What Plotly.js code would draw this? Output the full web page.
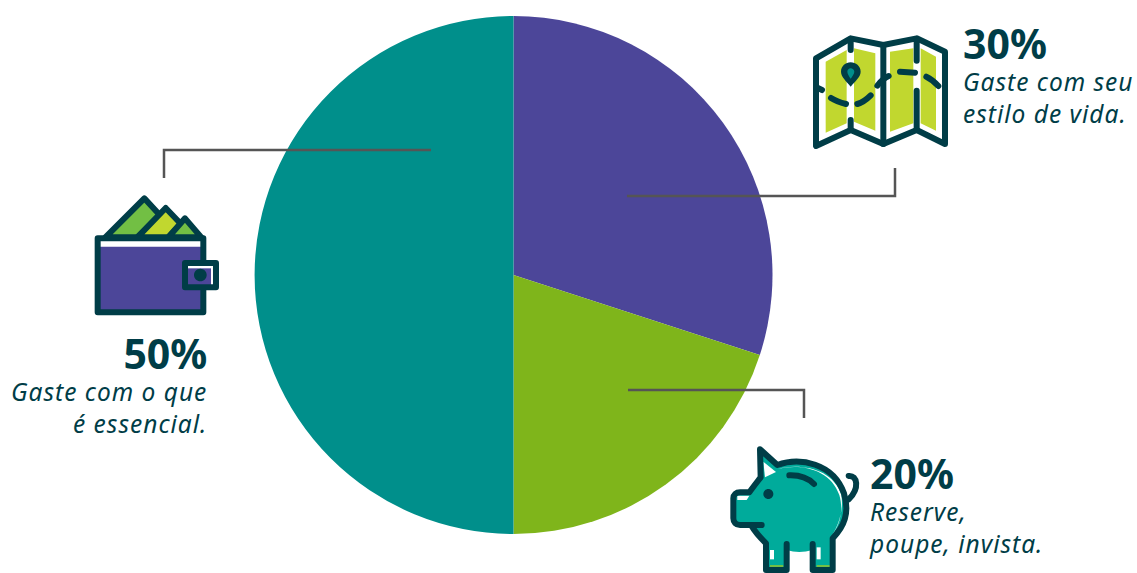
<!DOCTYPE html>
<html lang="pt">
<head>
<meta charset="utf-8">
<script src="https://cdn.plot.ly/plotly-3.0.1.min.js"></script>
<style>
  html, body { margin: 0; padding: 0; background: #fff; }
  #chart { width: 1137px; height: 573px; }
  /* Icon strokes are rounded; the first three shapes are the square leader lines */
  .shapelayer .shape-group:nth-child(n+4) path { stroke-linecap: round !important; stroke-linejoin: round !important; }
</style>
</head>
<body>
<div id="chart"></div>
<script>
// Budget split, clockwise from twelve o'clock
const categories = ['Estilo de vida', 'Reserve', 'Essencial'];
const shares = [30, 20, 50];
const sliceColors = ['#4c4699', '#7fb51b', '#008f8b'];

const captions = [
  ['Gaste com seu', 'estilo de vida.'],
  ['Reserve,', 'poupe, invista.'],
  ['Gaste com o que', 'é essencial.']
];

const W = 1137, H = 573;
const INK = '#003d47', LIME = '#c1d72f', LEAF = '#72bf44', PIG = '#00ab9b', PURPLE = '#4c4699', TEAL = '#008f8b';

const px = x => x / W;
const py = y => 1 - y / H;

// Convert a path written in icon units (three per pixel) to paper coordinates
function place(path, ox, oy) {
  return path.replace(/(-?[\d.]+)[ ,]+(-?[\d.]+)/g, (m, x, y) =>
    px(ox + x / 3).toFixed(5) + ',' + py(oy + y / 3).toFixed(5));
}

function ring(cx, cy, r) {
  const k = r * 0.5523;
  return `M${cx - r},${cy} C${cx - r},${cy - k} ${cx - k},${cy - r} ${cx},${cy - r} ` +
         `C${cx + k},${cy - r} ${cx + r},${cy - k} ${cx + r},${cy} ` +
         `C${cx + r},${cy + k} ${cx + k},${cy + r} ${cx},${cy + r} ` +
         `C${cx - k},${cy + r} ${cx - r},${cy + k} ${cx - r},${cy} Z`;
}

const filled = (d, ox, oy, color) => ({
  type: 'path', xref: 'paper', yref: 'paper', layer: 'above',
  path: place(d, ox, oy), fillcolor: color, line: { width: 0 }
});
const outline = (d, ox, oy, width, fill) => ({
  type: 'path', xref: 'paper', yref: 'paper', layer: 'above',
  path: place(d, ox, oy), fillcolor: fill || 'rgba(0,0,0,0)',
  line: { color: INK, width: width || 6 }
});
const leader = d => ({
  type: 'path', xref: 'paper', yref: 'paper', layer: 'above',
  path: place(d, 0, 0), fillcolor: 'rgba(0,0,0,0)', line: { color: '#555555', width: 2.5 }
});

// Leader lines from slices to their captions
const leaders = [
  leader('M1881,588 L2685,588 L2685,504'),
  leader('M1884,1170 L2412,1170 L2412,1254'),
  leader('M1293,450 L492,450 L492,534')
];

// Folded map
const MX = 800, MY = 20;
const mapIcon = [
  filled('M48,115 L152,55 L250,75 L350,55 L435,95 L435,372 L350,330 L250,372 L152,330 L48,378 Z', MX, MY, '#ffffff'),
  filled('M77,125 L140,90 L140,310 L77,338 Z', MX, MY, LIME),
  filled('M162,85 L226,100 L226,332 L162,305 Z', MX, MY, LIME),
  filled('M270,95 L340,85 L340,310 L270,335 Z', MX, MY, LIME),
  filled('M362,85 L408,110 L408,332 L362,310 Z', MX, MY, LIME),
  outline('M48,115 L152,55 L250,75 L350,55 L435,95 L435,372 L350,330 L250,372 L152,330 L48,378 Z', MX, MY),
  outline('M250,75 L250,372', MX, MY),
  outline('M152,60 L152,90', MX, MY),
  outline('M152,300 L152,328', MX, MY),
  outline('M350,60 L350,122', MX, MY),
  outline('M350,212 L350,328', MX, MY),
  outline('M52,203 L66,210', MX, MY),
  outline('M93,234 C105,242 122,248 138,252', MX, MY),
  outline('M172,252 C186,248 200,238 212,226', MX, MY),
  outline('M232,197 C240,186 250,175 266,168', MX, MY),
  outline('M300,155 L345,158', MX, MY),
  outline('M379,170 C392,176 404,186 415,198', MX, MY),
  filled('M152,200 C140,184 123,172 123,155 C123,138 137,127 152,127 C167,127 182,138 182,155 C182,172 164,184 152,200 Z', MX, MY, INK),
  filled('M152,176 C148,170 142,162 142,155 C142,149 147,145 152,145 C157,145 163,149 163,155 C163,162 156,170 152,176 Z', MX, MY, TEAL)
];

// Wallet with banknotes
const WX = 0, WY = 140;
const walletIcon = [
  outline('M316,292 L433,175 L480,226 L412,292 Z', WX, WY, 6, LEAF),
  outline('M412,292 L497,204 L543,252 L505,292 Z', WX, WY, 6, LIME),
  outline('M505,292 L555,235 L604,292 Z', WX, WY, 6, LEAF),
  filled('M293,295 L610,295 L610,517 L293,517 Z', WX, WY, '#ffffff'),
  filled('M293,320 L610,320 L610,517 L293,517 Z', WX, WY, PURPLE),
  outline('M293,295 L610,295 L610,517 L293,517 Z', WX, WY),
  filled('M555,370 L648,370 L648,442 L555,442 Z', WX, WY, '#ffffff'),
  filled('M555,385 L633,385 L633,442 L555,442 Z', WX, WY, PURPLE),
  outline('M555,369 L648,369 L648,442 L555,442 Z', WX, WY),
  filled(ring(601, 405, 19), WX, WY, INK)
];

// Piggy bank
const PX = 720, PY = 400;
const pigIcon = [
  filled('M120,148 L172,195 C240,170 340,190 372,280 C390,340 370,380 340,415 L340,510 L278,510 L278,450 C250,458 225,458 200,450 L200,510 L138,510 L138,430 L95,378 L60,378 C48,378 40,368 40,355 L40,295 C40,282 48,275 60,275 L90,275 L122,232 Z', PX, PY, PIG),
  filled('M130,185 L168,216 L135,232 Z', PX, PY, '#ffffff'),
  filled('M52,287 L88,287 L80,300 L52,300 Z', PX, PY, '#ffffff'),
  filled('M150,450 L162,450 L162,478 L150,478 Z', PX, PY, '#ffffff'),
  filled('M290,442 L302,442 L302,478 L290,478 Z', PX, PY, '#ffffff'),
  filled('M150,495 L190,495 L190,505 L150,505 Z', PX, PY, LEAF),
  filled('M290,495 L330,495 L330,505 L290,505 Z', PX, PY, LEAF),
  filled('M172,207 C240,190 330,205 358,285 C372,335 358,380 330,415 C352,385 372,335 364,285 C340,205 240,188 172,207 Z', PX, PY, '#ffffff'),
  outline('M125,375 L60,375 C48,375 40,366 40,355 L40,295 C40,284 48,277 60,277 L88,277 C100,260 112,245 122,232 L120,148 L172,195 C240,170 340,190 372,280 C390,340 372,380 338,415 L338,510 L278,510 L278,432', PX, PY),
  outline('M200,432 L200,510 L138,510 L138,430 C120,412 105,396 95,378', PX, PY),
  outline('M386,228 C412,225 420,265 386,298', PX, PY),
  outline('M208,226 C240,225 265,235 282,252', PX, PY),
  filled(ring(145, 282, 15), PX, PY, INK)
];

const trace = {
  type: 'pie',
  labels: categories,
  values: shares,
  sort: false,
  direction: 'clockwise',
  rotation: 0,
  textinfo: 'none',
  hoverinfo: 'label+percent',
  marker: { colors: sliceColors, line: { width: 0 } },
  domain: { x: [px(254.5), px(772.5)], y: [py(534), py(16)] }
};

// Each caption block: the bold share on top, two italic lines below
const FONT = '"Noto Sans", "Open Sans", sans-serif';
const block = (i, x, y, anchor) => ({
  xref: 'paper', yref: 'paper', x: px(x), y: py(y),
  xanchor: anchor, yanchor: 'middle', align: anchor, showarrow: false,
  text: `<span style="font-size:41px;font-weight:bold">${shares[i]}%</span><br>` +
    captions[i].map(line => `<span style="font-style:italic;letter-spacing:1px">${line}</span>`).join('<br>'),
  font: { family: FONT, size: 24.5, color: INK }
});

const annotations = [
  block(0, 961, 72, 'left'),
  block(1, 867, 502, 'left'),
  block(2, 209, 383, 'right')
];

const layout = {
  width: W, height: H,
  margin: { l: 0, r: 0, t: 0, b: 0, pad: 0 },
  paper_bgcolor: '#ffffff',
  showlegend: false,
  annotations,
  shapes: [...leaders, ...mapIcon, ...walletIcon, ...pigIcon]
};

Plotly.newPlot('chart', [trace], layout, { displayModeBar: false, responsive: false });
</script>
</body>
</html>
